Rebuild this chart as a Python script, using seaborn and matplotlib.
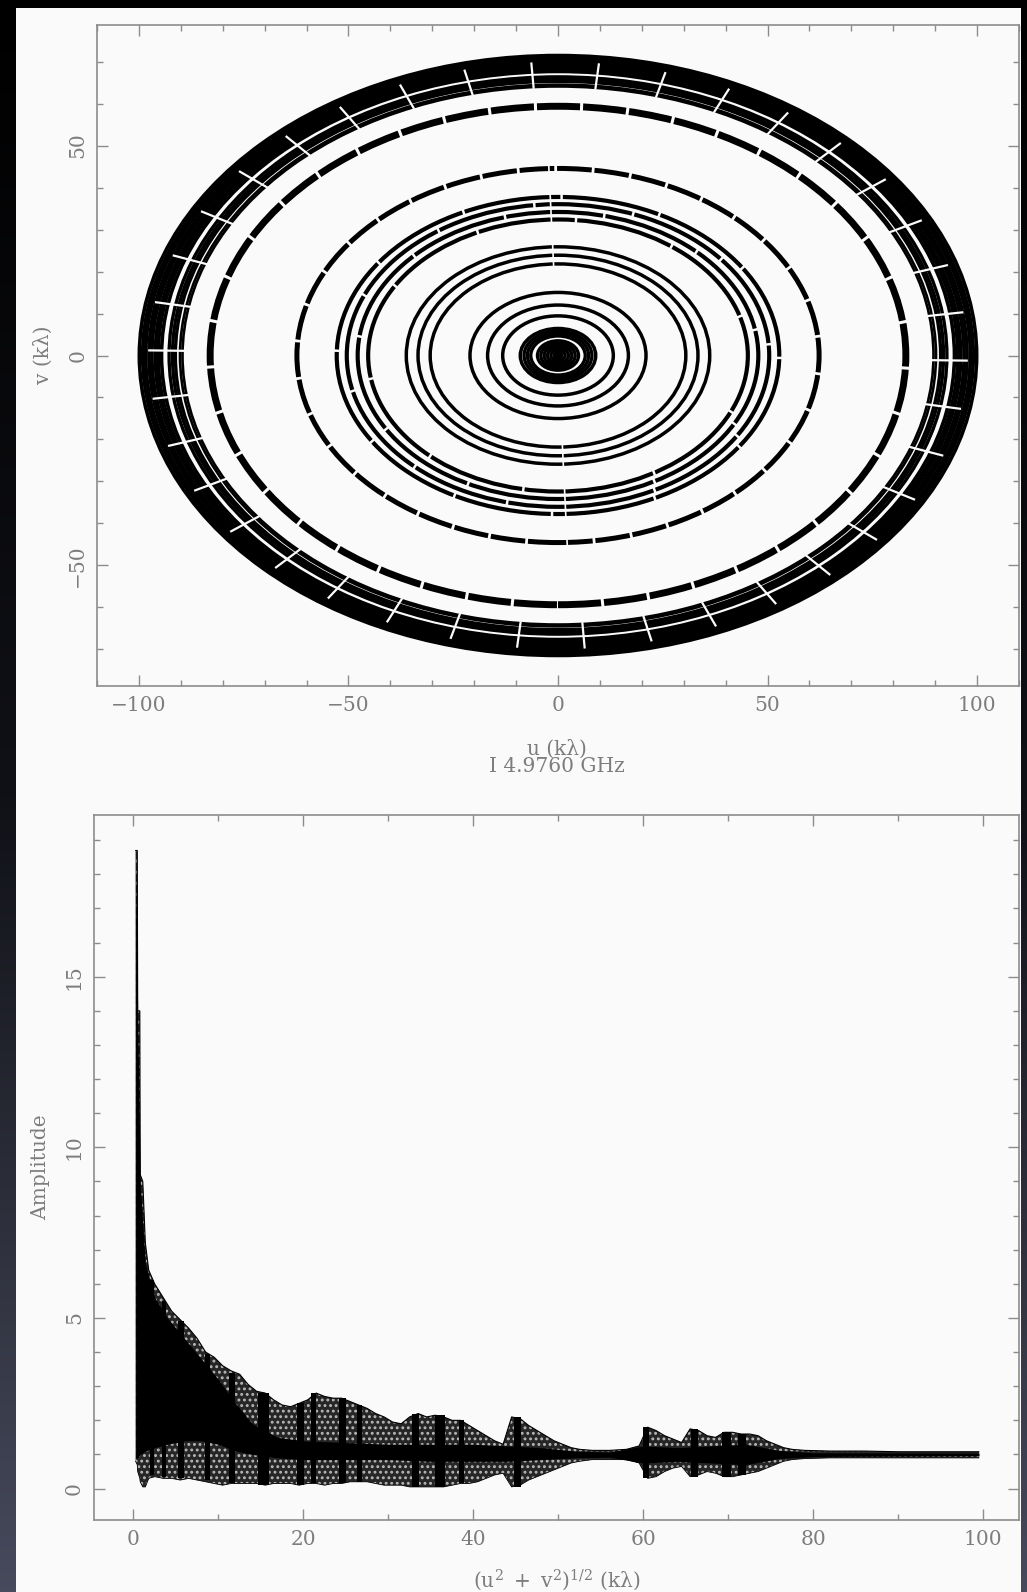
import numpy as np
import matplotlib
matplotlib.use("Agg")
import matplotlib.pyplot as plt
from matplotlib.patches import Ellipse, Rectangle
from matplotlib.colors import LinearSegmentedColormap
from matplotlib.ticker import MultipleLocator
import seaborn as sns

sns.set_theme(style="ticks")
plt.rcParams["font.family"] = ["DejaVu Serif", "DejaVu Sans"]
plt.rcParams["mathtext.fontset"] = "dejavuserif"
plt.rcParams["lines.scale_dashes"] = False
plt.rcParams["hatch.linewidth"] = 1.3

# ---------------- uv coverage (u/v semi-axes of each baseline track, kλ) ----------------
axis_ratio = 0.715                      # v extent / u extent of every track
outer_band_r = [99.9, 99.1, 98.4, 97.6, 96.9, 96.1, 95.4, 94.6]
mid_band_r = [92.8, 92.0, 91.3]
thin_band_r = [90.2, 89.6]
dashed_r = [83.0, 62.3]
dashed_lw = [5.0, 3.6]
dashed_pattern = [(31, 2.2), (25, 2.0)]
cluster_r = [52.8, 50.4, 47.8, 45.3]
inner_r = [36.2, 33.4, 30.5, 21.0, 16.8, 13.2, 9.0]
core_r = [8.1, 7.3, 6.5, 4.9, 4.1, 3.3, 2.5, 1.7, 0.9, 0.4]
scan_gap_deg = np.linspace(-1.0, 359.0, 38, endpoint=False)   # hour-angle gaps on the long tracks
inner_gap_deg = [92.0, 272.0]

# ---------------- amplitude vs uv distance ----------------
uv_dist = [0.25, 0.45, 0.5, 0.75, 0.8, 1.1, 1.4, 1.8, 2.5, 3.5,
           4.5, 5.5, 6.5, 7.5, 8.5, 9.5, 10.5, 11.5, 12.5, 13.5,
           14.5, 15.5, 16.5, 17.5, 18.5, 19.5, 20.5, 21.5, 22.5, 23.5,
           24.5, 25.5, 26.5, 27.5, 28.5, 29.5, 30.5, 31.5, 32.5, 33.5,
           34.5, 35.5, 36.5, 37.5, 38.5, 39.5, 40.5, 41.5, 42.5, 43.5,
           44.5, 45.5, 46.5, 47.5, 48.5, 49.5, 50.5, 51.5, 52.5, 54.0,
           56.0, 58.0, 59.5, 60.5, 61.5, 62.5, 63.5, 64.5, 65.5, 66.5,
           67.5, 68.5, 69.5, 70.5, 71.5, 72.5, 73.5, 74.5, 75.5, 76.5,
           77.5, 79.0, 82.0, 86.0, 90.0, 95.0, 99.5]
amp_hi = [18.7, 18.7, 14.0, 14.0, 9.2, 9.0, 7.2, 6.4, 6.0, 5.6,
          5.2, 4.95, 4.7, 4.4, 4.0, 3.85, 3.6, 3.45, 3.35, 3.05,
          2.85, 2.8, 2.6, 2.45, 2.4, 2.5, 2.6, 2.8, 2.7, 2.65,
          2.65, 2.55, 2.45, 2.35, 2.2, 2.1, 1.95, 1.9, 2.1, 2.2,
          2.1, 2.15, 2.1, 2.0, 2.0, 1.85, 1.7, 1.55, 1.4, 1.3,
          2.1, 2.05, 1.85, 1.7, 1.55, 1.4, 1.3, 1.2, 1.15, 1.12,
          1.12, 1.15, 1.25, 1.8, 1.7, 1.55, 1.45, 1.35, 1.75, 1.7,
          1.55, 1.5, 1.65, 1.65, 1.6, 1.6, 1.55, 1.4, 1.3, 1.2,
          1.15, 1.12, 1.1, 1.1, 1.08, 1.08, 1.08]
amp_lo = [0.8, 0.7, 0.5, 0.3, 0.2, 0.05, 0.05, 0.3, 0.35, 0.3,
          0.3, 0.25, 0.3, 0.25, 0.2, 0.15, 0.1, 0.15, 0.15, 0.15,
          0.15, 0.1, 0.15, 0.15, 0.15, 0.1, 0.15, 0.15, 0.1, 0.15,
          0.15, 0.2, 0.2, 0.2, 0.15, 0.1, 0.1, 0.1, 0.05, 0.05,
          0.05, 0.05, 0.05, 0.1, 0.15, 0.15, 0.2, 0.3, 0.4, 0.45,
          0.05, 0.1, 0.25, 0.35, 0.45, 0.55, 0.65, 0.75, 0.8, 0.85,
          0.85, 0.85, 0.75, 0.3, 0.35, 0.5, 0.6, 0.65, 0.35, 0.4,
          0.5, 0.45, 0.35, 0.35, 0.4, 0.45, 0.5, 0.6, 0.7, 0.8,
          0.85, 0.88, 0.9, 0.9, 0.9, 0.9, 0.9]

# densest part of the visibility cloud
core_d = [0.25, 0.5, 0.8, 1.4, 2.5, 4.0, 6.0, 8.0, 10.0, 12.0,
          14.0, 17.0, 20.0, 25.0, 30.0, 35.0, 40.0, 44.0, 48.0, 52.0,
          56.0, 60.0, 64.0, 68.0, 72.0, 76.0, 80.0, 99.5]
core_hi = [18.7, 14.0, 9.0, 6.6, 5.6, 5.0, 4.4, 3.8, 3.2, 2.5,
           1.9, 1.5, 1.4, 1.35, 1.3, 1.3, 1.3, 1.25, 1.2, 1.1,
           1.07, 1.25, 1.2, 1.25, 1.3, 1.12, 1.05, 1.04]
core_lo = [0.9, 0.9, 1.0, 1.1, 1.2, 1.3, 1.4, 1.4, 1.3, 1.1,
           1.0, 0.9, 0.85, 0.85, 0.85, 0.8, 0.8, 0.8, 0.85, 0.9,
           0.92, 0.75, 0.8, 0.75, 0.7, 0.88, 0.94, 0.96]

# baselines piling up at a single uv distance
stripe_d = [2.2, 3.6, 5.6, 8.7, 11.6, 15.3, 19.7, 21.2, 24.6, 26.6, 33.2, 36.1, 38.6, 45.2, 60.3, 66.0, 69.8, 71.6]
stripe_w = [0.5, 0.5, 0.6, 0.6, 0.8, 1.2, 0.8, 0.5, 0.8, 0.6, 0.8, 1.2, 0.6, 0.8, 0.8, 0.8, 1.0, 1.0]
stripe_hi = [6.1, 5.5, 4.9, 3.95, 3.4, 2.8, 2.5, 2.8, 2.65, 2.45, 2.2, 2.15, 2.0, 2.1, 1.8, 1.75, 1.65, 1.6]
stripe_lo = [0.4, 0.35, 0.3, 0.25, 0.15, 0.1, 0.1, 0.15, 0.15, 0.2, 0.05, 0.05, 0.15, 0.05, 0.3, 0.35, 0.35, 0.4]

W, H = 1027, 1592
PAPER = "#fafafa"
GREY = "#8c8c8c"
TXT = "#7d7d7d"
FS = 14.5

fig = plt.figure(figsize=(W / 100, H / 100), dpi=100)

# slide backdrop and the white page the plots sit on
bg = fig.add_axes([0, 0, 1, 1], zorder=-10)
shade = LinearSegmentedColormap.from_list("slide", ["#000000", "#101117", "#474a5c"])
bg.imshow(np.linspace(0, 1, 256)[:, None], aspect="auto", cmap=shade,
          extent=[0, 1, 0, 1], origin="upper")
bg.add_patch(Rectangle((16 / W, 0), (1021 - 16) / W, (H - 8) / H, color=PAPER, lw=0))
bg.set_xlim(0, 1)
bg.set_ylim(0, 1)
bg.axis("off")


def style_axes(ax, xmaj, xmin, ymaj, ymin):
    ax.set_facecolor(PAPER)
    for s in ax.spines.values():
        s.set_color(GREY)
        s.set_linewidth(1.2)
        s.set_visible(True)
    ax.xaxis.set_major_locator(MultipleLocator(xmaj))
    ax.xaxis.set_minor_locator(MultipleLocator(xmin))
    ax.yaxis.set_major_locator(MultipleLocator(ymaj))
    ax.yaxis.set_minor_locator(MultipleLocator(ymin))
    ax.tick_params(which="both", direction="in", top=True, right=True,
                   color=GREY, width=1.0, labelcolor=TXT, labelsize=FS, pad=7)
    ax.tick_params(which="major", length=8)
    ax.tick_params(which="minor", length=4.5)
    ax.tick_params(axis="y", labelrotation=90)
    for lab in ax.get_yticklabels():
        lab.set_va("center")
    ax.grid(False)


# ---------------- top: uv plane ----------------
ax1 = fig.add_axes([97 / W, 1 - 686 / H, 922 / W, 661 / H])
ax1.set_xlim(-110, 110)
ax1.set_ylim(-78.7, 78.7)


def track(ax, r, lw, ls="-"):
    ax.add_patch(Ellipse((0, 0), 2 * r, 2 * axis_ratio * r, fill=False,
                         ec="black", lw=lw, ls=ls, capstyle="butt", zorder=2))


for r in outer_band_r:
    track(ax1, r, 2.6)
for r in mid_band_r:
    track(ax1, r, 2.4)
for r in thin_band_r:
    track(ax1, r, 1.9)
for r, lw, (on, off) in zip(dashed_r, dashed_lw, dashed_pattern):
    track(ax1, r, lw, (0, (on, off)))
for r in cluster_r:
    track(ax1, r, 3.0, (0, (70, 1.8)))
for r in inner_r:
    track(ax1, r, 2.5)
for r in core_r:
    track(ax1, r, 2.4)

for a in np.deg2rad(scan_gap_deg):
    rr = np.array([89.0, 97.8])
    ax1.plot(rr * np.cos(a), axis_ratio * rr * np.sin(a), color=PAPER,
             lw=1.6, solid_capstyle="butt", zorder=3)
for a in np.deg2rad(inner_gap_deg):
    rr = np.array([29.0, 64.0])
    ax1.plot(rr * np.cos(a), axis_ratio * rr * np.sin(a), color=PAPER,
             lw=1.2, solid_capstyle="butt", zorder=3)

style_axes(ax1, 50, 10, 50, 10)

fig.text(43 / W, 1 - 355 / H, "v (kλ)", rotation=90, ha="center", va="center",
         color=TXT, fontsize=FS)
fig.text(557 / W, 1 - 749 / H, "u (kλ)", ha="center", va="center", color=TXT, fontsize=FS)
fig.text(557 / W, 1 - 767 / H, "I 4.9760 GHz", ha="center", va="center", color=TXT, fontsize=FS)

# ---------------- bottom: amplitude vs uv distance ----------------
ax2 = fig.add_axes([93.5 / W, 1 - 1520 / H, 925.5 / W, 705 / H])
ax2.set_xlim(-4.7, 104.2)
ax2.set_ylim(-0.92, 19.74)

ax2.fill_between(uv_dist, amp_lo, amp_hi, facecolor="#262626", edgecolor="#b8b8b8",
                 hatch="...", linewidth=0, zorder=2)
ax2.fill_between(core_d, core_lo, core_hi, color="black", linewidth=0, zorder=3)
ax2.bar(stripe_d, np.subtract(stripe_hi, stripe_lo), bottom=stripe_lo, width=stripe_w,
        color="black", linewidth=0, zorder=3)
sns.lineplot(x=uv_dist, y=amp_hi, ax=ax2, color="black", lw=0.8, estimator=None, zorder=4)
sns.lineplot(x=uv_dist, y=amp_lo, ax=ax2, color="black", lw=0.6, estimator=None, zorder=4)

style_axes(ax2, 20, 10, 5, 1)
ax2.set_xlabel("")
ax2.set_ylabel("")

fig.text(41 / W, 1 - 1167 / H, "Amplitude", rotation=90, ha="center", va="center",
         color=TXT, fontsize=FS)
fig.text(557 / W, 1 - 1580 / H, r"$(\mathrm{u}^2\ +\ \mathrm{v}^2)^{1/2}$ (kλ)",
         ha="center", va="center", color=TXT, fontsize=FS)

fig.savefig("out.png", dpi=100, facecolor="black")
